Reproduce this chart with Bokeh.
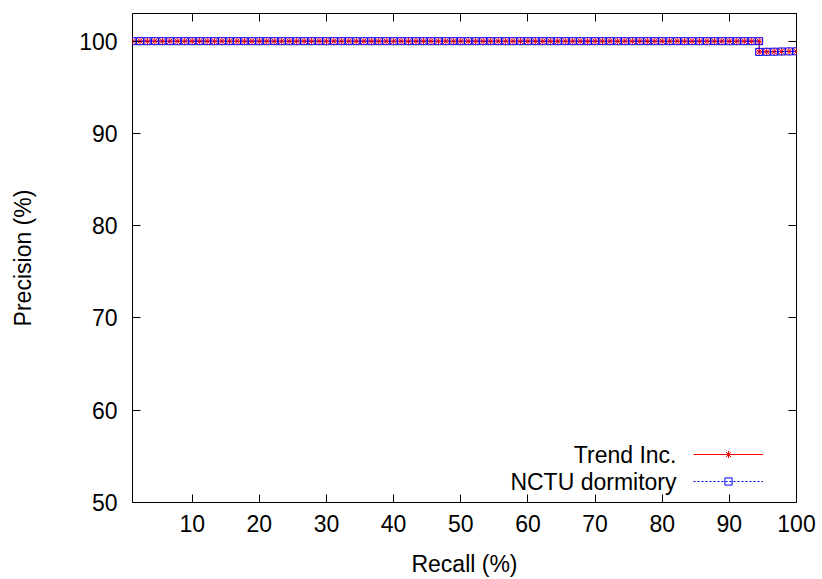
from bokeh.plotting import figure
from bokeh.models import (Range1d, LinearAxis, FixedTicker, Legend, LegendItem,
                          Label, CustomJSTickFormatter)
from bokeh.core.properties import value
from bokeh.embed import file_html
from bokeh.resources import INLINE

# ---- data ----
recall = [
    1.11, 2.22, 3.33, 4.44, 5.56, 6.67, 7.78, 8.89, 10.00,
    11.11, 12.22, 13.33, 14.44, 15.56, 16.67, 17.78, 18.89, 20.00,
    21.11, 22.22, 23.33, 24.44, 25.56, 26.67, 27.78, 28.89, 30.00,
    31.11, 32.22, 33.33, 34.44, 35.56, 36.67, 37.78, 38.89, 40.00,
    41.11, 42.22, 43.33, 44.44, 45.56, 46.67, 47.78, 48.89, 50.00,
    51.11, 52.22, 53.33, 54.44, 55.56, 56.67, 57.78, 58.89, 60.00,
    61.11, 62.22, 63.33, 64.44, 65.56, 66.67, 67.78, 68.89, 70.00,
    71.11, 72.22, 73.33, 74.44, 75.56, 76.67, 77.78, 78.89, 80.00,
    81.11, 82.22, 83.33, 84.44, 85.56, 86.67, 87.78, 88.89, 90.00,
    91.11, 92.22, 93.33, 94.44,
    94.44, 95.56, 96.67, 97.78, 98.89, 100.00,
]
precision_trend = [
    100, 100, 100, 100, 100, 100, 100, 100, 100,
    100, 100, 100, 100, 100, 100, 100, 100, 100,
    100, 100, 100, 100, 100, 100, 100, 100, 100,
    100, 100, 100, 100, 100, 100, 100, 100, 100,
    100, 100, 100, 100, 100, 100, 100, 100, 100,
    100, 100, 100, 100, 100, 100, 100, 100, 100,
    100, 100, 100, 100, 100, 100, 100, 100, 100,
    100, 100, 100, 100, 100, 100, 100, 100, 100,
    100, 100, 100, 100, 100, 100, 100, 100, 100,
    100, 100, 100, 100,
    98.84, 98.85, 98.86, 98.88, 98.89, 98.90,
]
precision_nctu = [
    100, 100, 100, 100, 100, 100, 100, 100, 100,
    100, 100, 100, 100, 100, 100, 100, 100, 100,
    100, 100, 100, 100, 100, 100, 100, 100, 100,
    100, 100, 100, 100, 100, 100, 100, 100, 100,
    100, 100, 100, 100, 100, 100, 100, 100, 100,
    100, 100, 100, 100, 100, 100, 100, 100, 100,
    100, 100, 100, 100, 100, 100, 100, 100, 100,
    100, 100, 100, 100, 100, 100, 100, 100, 100,
    100, 100, 100, 100, 100, 100, 100, 100, 100,
    100, 100, 100, 100,
    98.84, 98.85, 98.86, 98.88, 98.89, 98.90,
]
series_names = ["Trend Inc.", "NCTU dormitory"]
x_ticks = [10, 20, 30, 40, 50, 60, 70, 80, 90, 100]
y_ticks = [50, 60, 70, 80, 90, 100]

FONT = "Liberation Sans"
FS = "23px"

p = figure(width=822, height=579, output_backend="svg", toolbar_location=None,
           x_range=Range1d(1.11, 100), y_range=Range1d(50, 103),
           min_border_left=132, min_border_right=26,
           min_border_top=13, min_border_bottom=76,
           x_axis_label="Recall (%)", y_axis_label="Precision (%)")
p.background_fill_color = "white"
p.border_fill_color = "white"
p.outline_line_color = "black"
p.outline_line_width = 1
p.outline_line_alpha = 1
p.grid.visible = False

for ax, ticks in ((p.xaxis[0], x_ticks), (p.yaxis[0], y_ticks)):
    ax.ticker = FixedTicker(ticks=ticks)
    ax.major_tick_in = 8
    ax.major_tick_out = 0
    ax.minor_tick_in = 0
    ax.minor_tick_out = 0
    ax.axis_line_color = None
    ax.major_tick_line_color = "black"
    ax.major_label_text_font = FONT
    ax.major_label_text_font_size = FS
    ax.major_label_text_color = "black"
    ax.axis_label_text_font = FONT
    ax.axis_label_text_font_size = FS
    ax.axis_label_text_font_style = "normal"
    ax.axis_label_text_color = "black"

p.xaxis[0].major_label_standoff = 12
p.xaxis[0].axis_label_standoff = 16
p.yaxis[0].major_label_standoff = 15
p.yaxis[0].axis_label_standoff = 40

# mirror ticks on top and right
for loc, ticks in (("above", x_ticks), ("right", y_ticks)):
    ax = LinearAxis(ticker=FixedTicker(ticks=ticks),
                    formatter=CustomJSTickFormatter(code="return ''"))
    ax.major_tick_in = 8
    ax.major_tick_out = 0
    ax.minor_tick_in = 0
    ax.minor_tick_out = 0
    ax.axis_line_color = None
    ax.major_label_standoff = 0
    ax.major_label_text_font_size = "1px"
    p.add_layout(ax, loc)

r1 = p.line(recall, precision_trend, line_color="red", line_width=1)
s1 = p.scatter(recall, precision_trend, marker="asterisk", size=8,
               line_color="red", line_width=1)
r2 = p.line(recall, precision_nctu, line_color="blue", line_width=1,
            line_dash="2 2")
s2 = p.scatter(recall, precision_nctu, marker="square", size=7,
               line_color="blue", fill_color=None, line_width=1)

legend = Legend(items=[LegendItem(label=value(""), renderers=[r1, s1]),
                       LegendItem(label=value(""), renderers=[r2, s2])],
                location=(561, 12), glyph_width=70, glyph_height=18,
                label_width=0, label_height=18, label_standoff=0,
                spacing=9, padding=0, margin=0,
                border_line_alpha=0, background_fill_alpha=0)
p.add_layout(legend, "center")

for name, ly in zip(series_names, (48, 21)):
    p.add_layout(Label(x=544, y=ly, x_units="screen", y_units="screen",
                       text=name, text_align="right", text_baseline="middle",
                       text_font=FONT, text_font_size=FS,
                       text_color="black"))

open("out.html", "w").write(file_html(p, INLINE))
